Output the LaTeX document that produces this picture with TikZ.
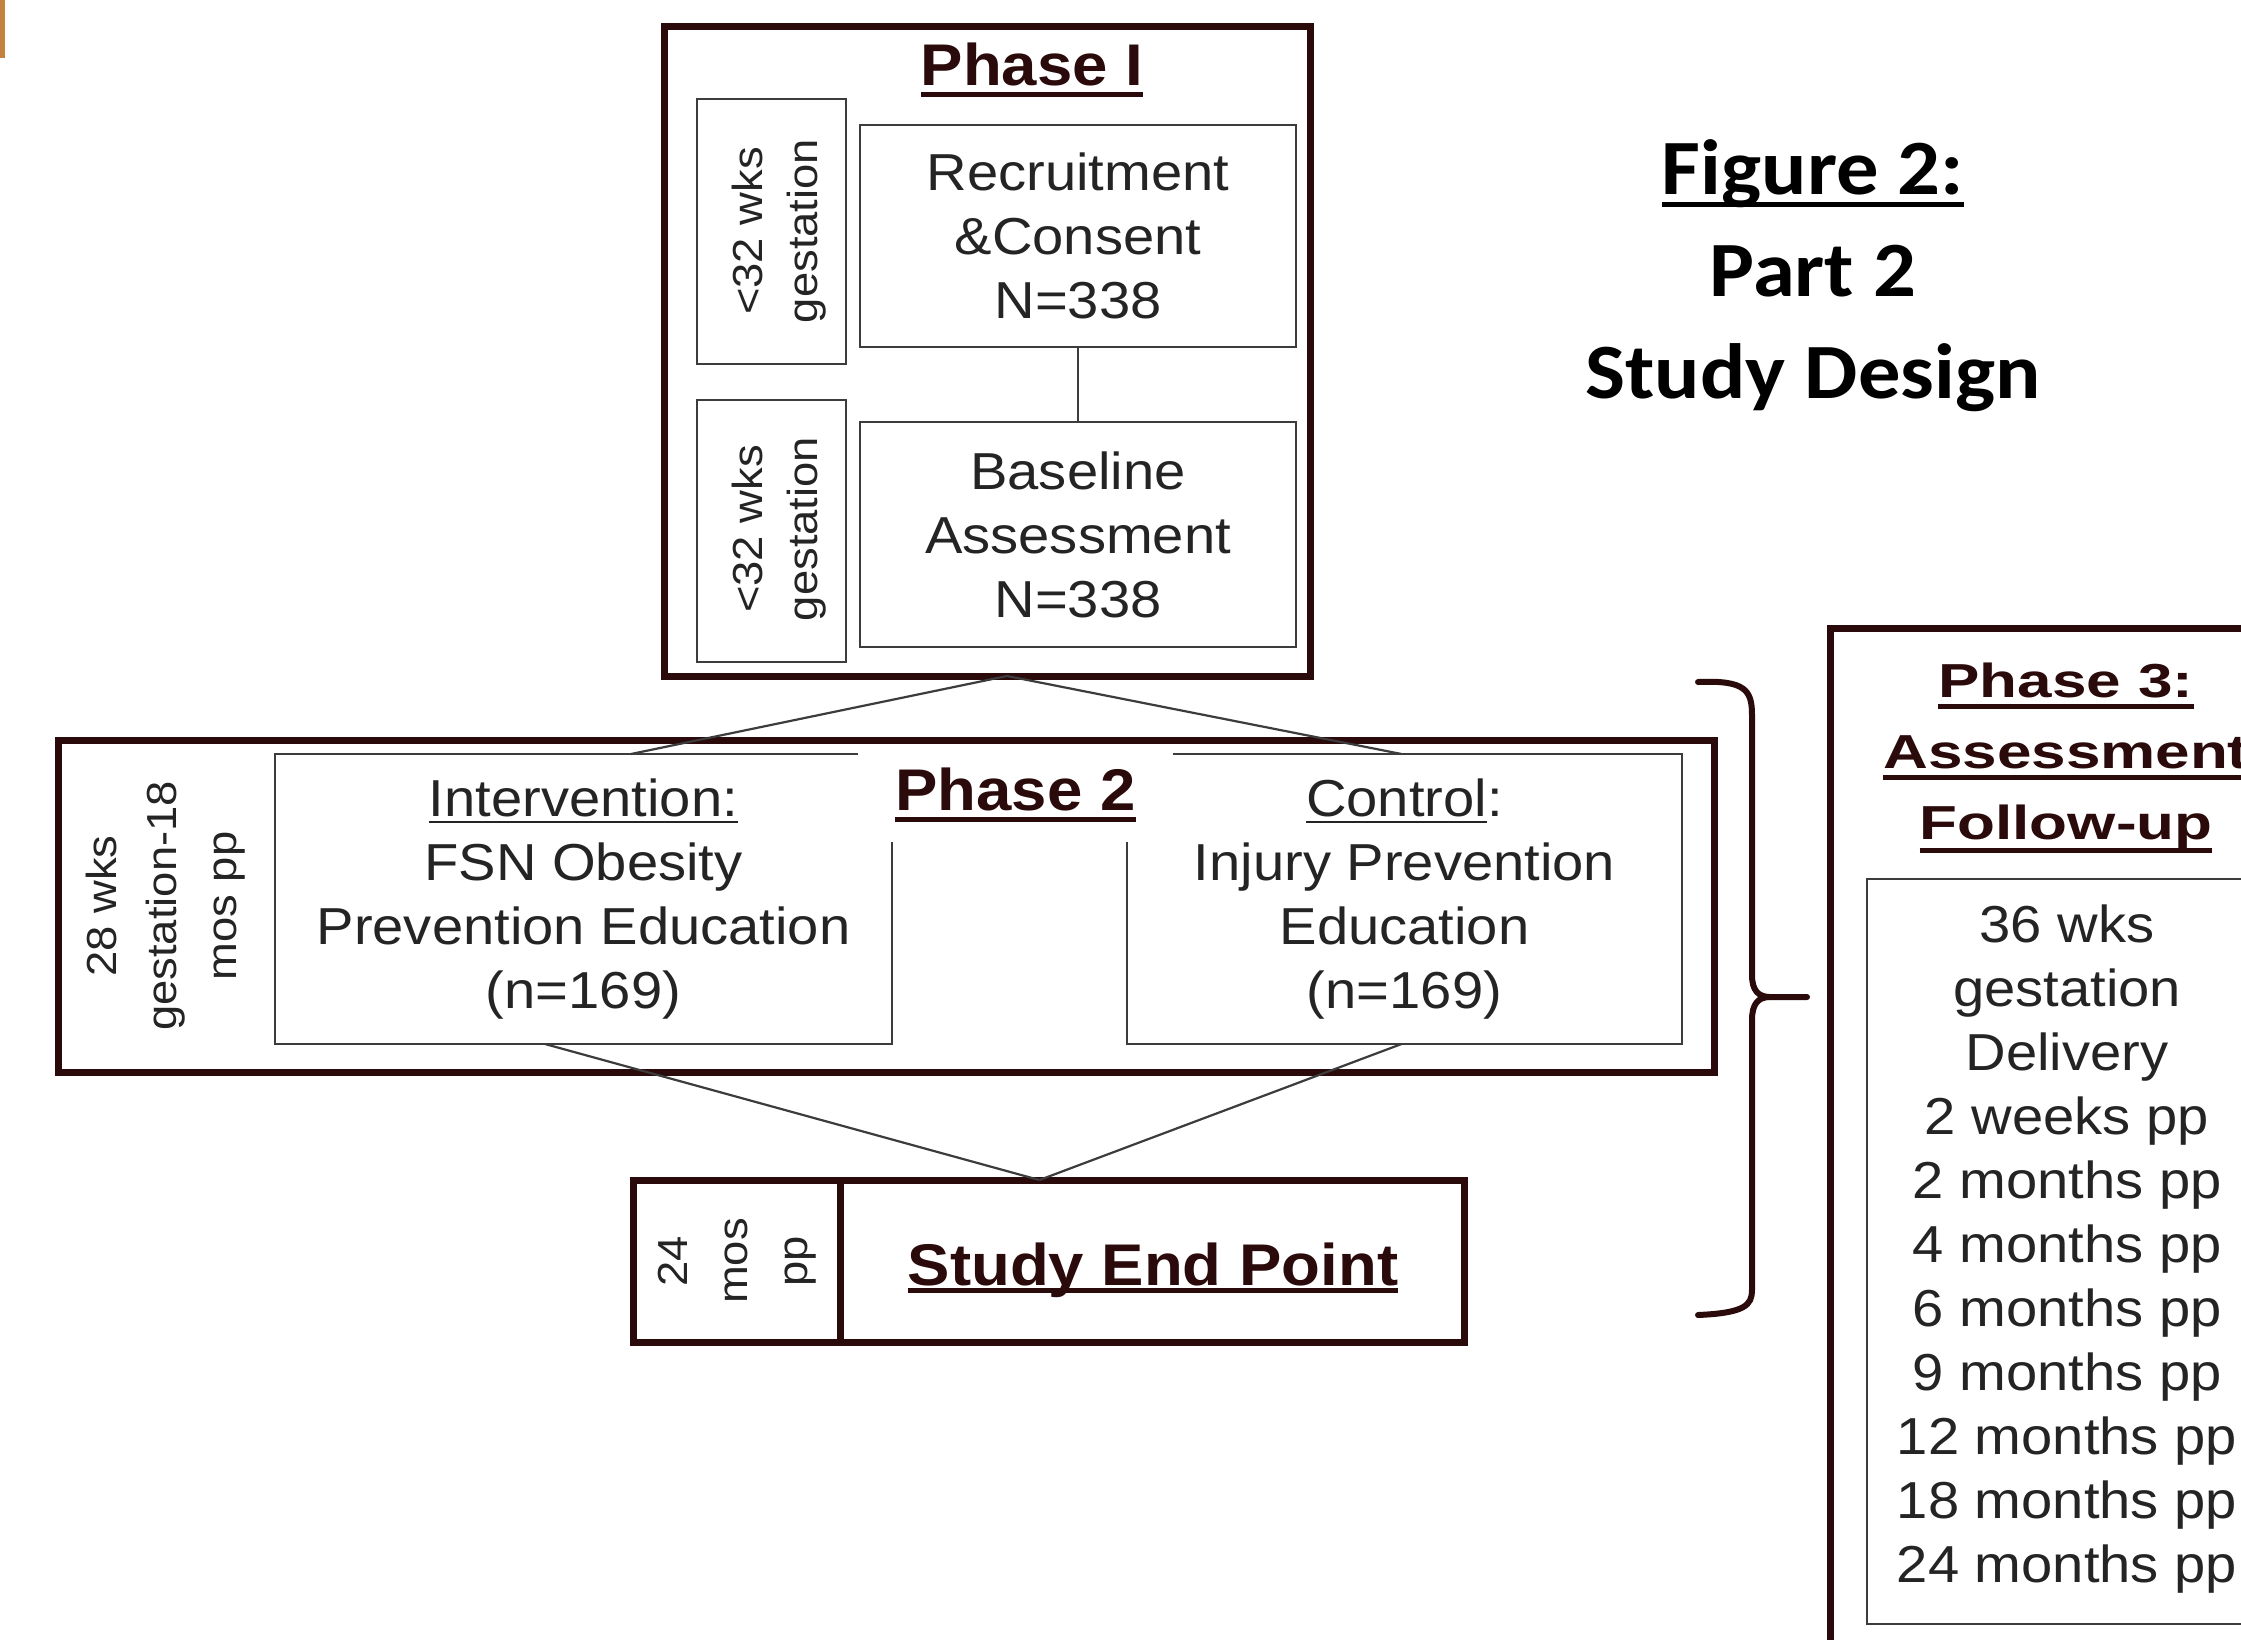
\documentclass[tikz,border=0pt]{standalone}
\usepackage{fontspec}
\usetikzlibrary{calc}
\newfontfamily\arialS[FakeStretch=1.08]{Liberation Sans}
\newfontfamily\wideS[FakeStretch=1.3]{Liberation Sans}
\newfontfamily\calib[FakeStretch=1.08]{Carlito}
\definecolor{maroon}{HTML}{2A0A0A}
\definecolor{boxgray}{HTML}{3C3C3C}
\definecolor{txtgray}{HTML}{242424}
\definecolor{orangebar}{HTML}{C4823E}
\newcommand\myul[3]{\setbox0\hbox{#3}\rlap{\rule[-#1]{\wd0}{#2}}\box0}
\begin{document}
\begin{tikzpicture}[x=1pt,y=-1pt,
  every node/.style={inner sep=0pt, outer sep=0pt},
  outerbox/.style={draw=maroon, line width=7pt},
  thinbox/.style={draw=boxgray, line width=2.7pt},
  txt/.style={font=\arialS\fontsize{52}{64}\selectfont, text=txtgray, align=center},
  listf/.style={font=\arialS\fontsize{52}{64}\selectfont, text=txtgray, align=center},
  titlef/.style={font=\arialS\bfseries\fontsize{58.8}{70}\selectfont, text=maroon},
  sidef/.style={font=\arialS\fontsize{42}{55}\selectfont, text=txtgray, align=center},
  sidefb/.style={font=\arialS\fontsize{42}{60}\selectfont, text=txtgray, align=center},
  p3f/.style={font=\wideS\bfseries\fontsize{47.7}{71}\selectfont, text=maroon, align=center},
  figf/.style={font=\calib\bfseries\fontsize{78.3}{102}\selectfont, text=black, align=center},
  conn/.style={draw=boxgray, line width=2.2pt},
  bracel/.style={draw=maroon, line width=6pt, line cap=round}
]
\useasboundingbox (0,0) rectangle (2241,1639);
\clip (0,0) rectangle (2241,1639);
\fill[white] (0,0) rectangle (2241,1639);
\fill[orangebar] (0,0) rectangle (4.5,58);

% Phase I
\node[outerbox, minimum width=646pt, minimum height=650pt] (p1) at (987,351) {};
\node[titlef, anchor=base] (p1t) at (1032,85) {\myul{11.5pt}{5pt}{Phase I}};
\node[thinbox, minimum width=149pt, minimum height=265pt] (bxa) at (771.5,231.5) {};
\node[sidef, rotate=90] (lba) at (779,231) {<32 wks\\gestation};
\node[thinbox, minimum width=149pt, minimum height=262pt] (bxb) at (771.5,531) {};
\node[sidef, rotate=90] (lbb) at (779,529) {<32 wks\\gestation};
\node[thinbox, txt, minimum width=436pt, minimum height=222pt] (rec) at (1078,236) {Recruitment\\\&Consent\\N=338};
\node[thinbox, txt, minimum width=436pt, minimum height=225pt] (base) at (1078,534.5) {Baseline\\Assessment\\N=338};
\draw[conn] (rec) -- (base);

% Phase 2
\node[outerbox, minimum width=1656pt, minimum height=332pt] (p2) at (886,906) {};
\node[thinbox, txt, minimum width=617pt, minimum height=290pt] (intv) at (583.5,899) {\myul{7pt}{2.5pt}{Intervention:}\\FSN Obesity\\Prevention Education\\(n=169)};
\node[thinbox, txt, minimum width=555pt, minimum height=290pt] (ctrl) at (1404.5,899) {\myul{7pt}{2.5pt}{Control}:\\Injury Prevention\\Education\\(n=169)};
\node[titlef, fill=white, minimum width=315pt, minimum height=94pt] (p2t) at (1015.5,795) {\myul{11.5pt}{5pt}{Phase 2}};
\node[sidefb, rotate=90] (lbp2) at (166,906) {28 wks\\gestation-18\\mos pp};

% Study end point
\node[outerbox, minimum width=831pt, minimum height=162pt] (end) at (1048.5,1261) {};
\node[outerbox, minimum width=207pt, minimum height=162pt] (endl) at (736.5,1261) {};
\node[sidefb, rotate=90] (lbend) at (737,1261) {24\\mos\\pp};
\node[titlef, anchor=base] (endt) at (1153,1285) {\myul{8pt}{5pt}{Study End Point}};

% connectors
\coordinate (p1b) at ($(p1.south)+(20,0)$);
\draw[conn] (p1b) -- ($(intv.north west)!0.577!(intv.north east)$);
\draw[conn] (p1b) -- ($(ctrl.north)+(-3,0)$);
\coordinate (endtop) at ($(end.north west)!0.489!(end.north east)$);
\draw[conn] ($(intv.south west)!0.4376!(intv.south east)$) -- (endtop);
\draw[conn] ($(ctrl.south)+(-3,0)$) -- (endtop);

% brace
\draw[bracel] (1698,682) .. controls (1745,680) and (1752,690) .. (1752,715) -- (1752,975) .. controls (1752,990) and (1758,997) .. (1770,997) -- (1807,997);
\draw[bracel] (1770,997) .. controls (1758,997) and (1752,1004) .. (1752,1020) -- (1752,1290) .. controls (1752,1305) and (1745,1313) .. (1698,1315);

% Phase 3
\node[outerbox, anchor=north west, minimum width=700pt, minimum height=1200pt] (p3) at (1830,628) {};
\node[thinbox, anchor=north west, minimum width=600pt, minimum height=745pt] (p3in) at (1867,879) {};
\node[p3f, anchor=north] (p3t) at (2066,663) {\myul{11pt}{4.5pt}{Phase 3:}\\\myul{11pt}{4.5pt}{Assessment}\\\myul{13pt}{4.5pt}{Follow-up}};
\node[listf, anchor=north] (list) at (2067,905) {36 wks\\gestation\\Delivery\\2 weeks pp\\2 months pp\\4 months pp\\6 months pp\\9 months pp\\12 months pp\\18 months pp\\24 months pp};

% Figure title
\node[figf, anchor=north] (fig) at (1813,140) {\myul{12.5pt}{5pt}{Figure 2:}\\Part 2\\Study Design};
\end{tikzpicture}
\end{document}
